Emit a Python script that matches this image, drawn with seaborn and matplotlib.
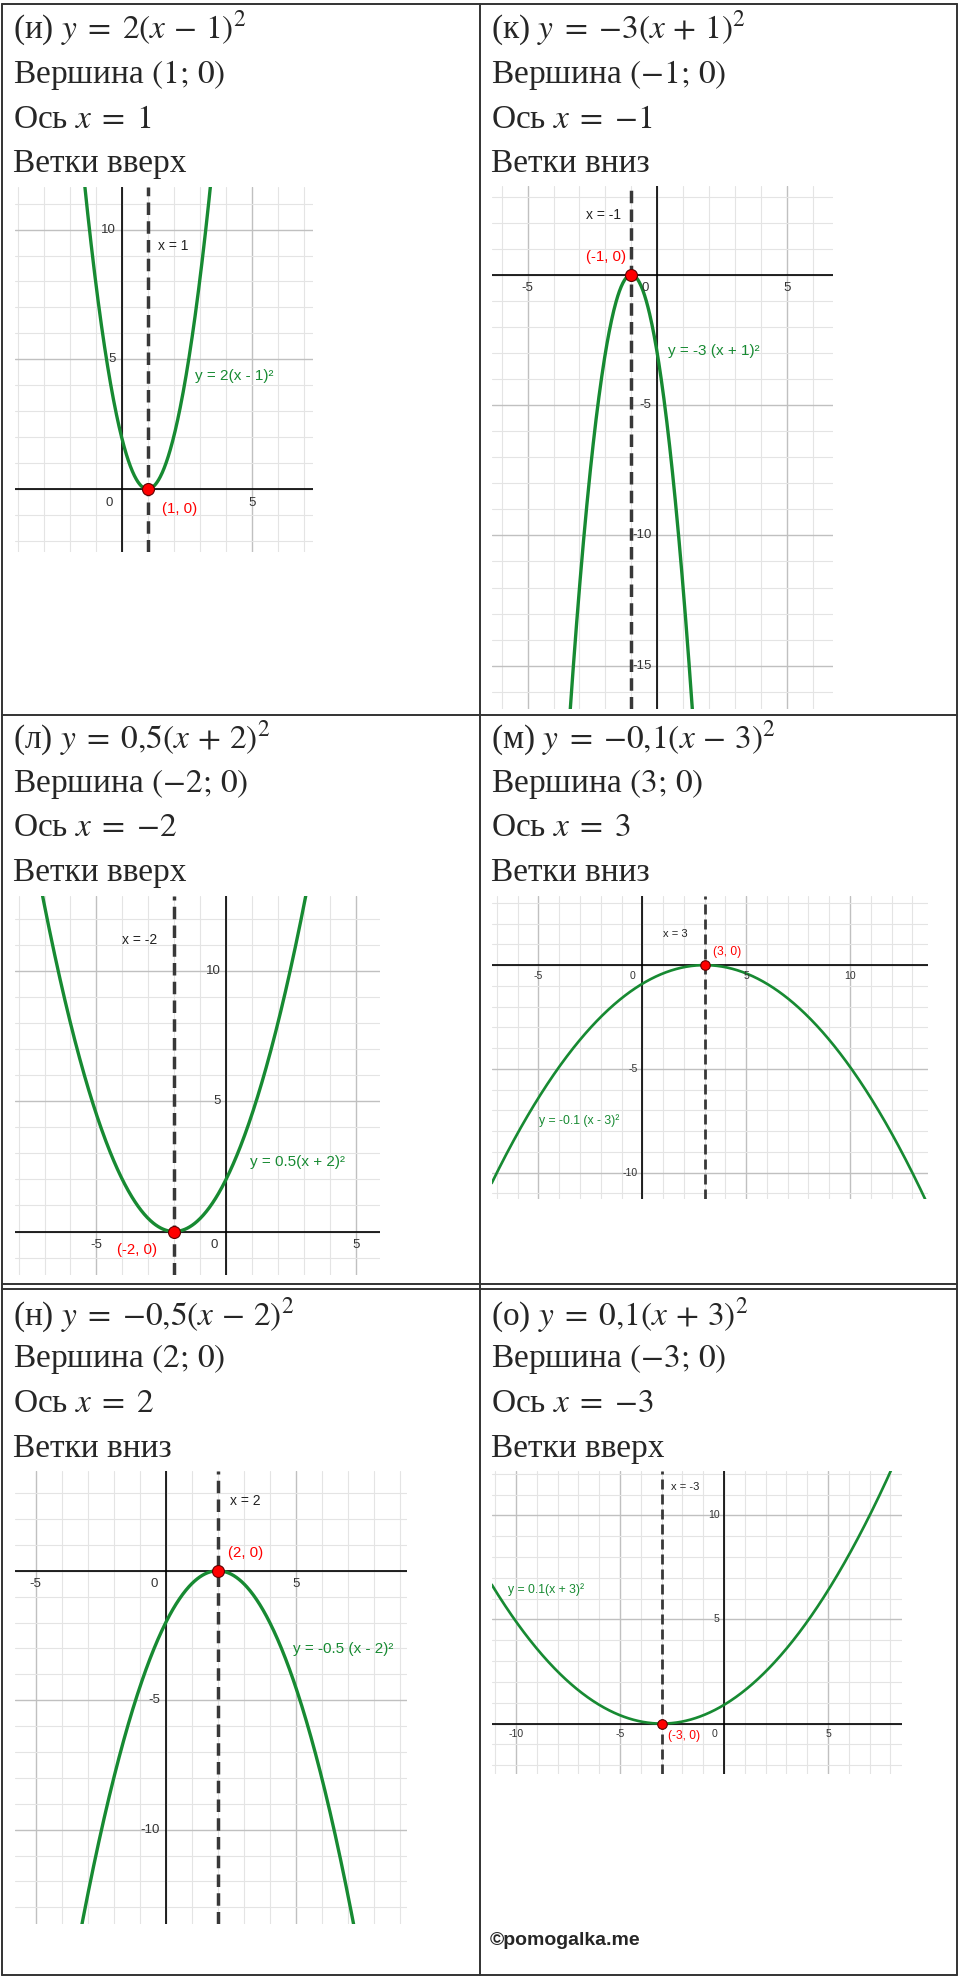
import numpy as np
import matplotlib
matplotlib.use("Agg")
import matplotlib.pyplot as plt
from matplotlib.ticker import MultipleLocator
import seaborn as sns

W, H = 960, 1979

# ---- chart content ----
letters = ["и", "к", "л", "м", "н", "о"]
coef_a = [2, -3, 0.5, -0.1, -0.5, 0.1]
vertex_x = [1, -1, -2, 3, 2, -3]
formula_tex = [r"$y\;=\;2(x\,-\,1)^2$", r"$y\;=\;{-3}(x\,+\,1)^2$", r"$y\;=\;0{,}5(x\,+\,2)^2$",
               r"$y\;=\;{-0{,}1}(x\,-\,3)^2$", r"$y\;=\;{-0{,}5}(x\,-\,2)^2$", r"$y\;=\;0{,}1(x\,+\,3)^2$"]
vertex_tex = [r"$(1;\,0)$", r"$(-1;\,0)$", r"$(-2;\,0)$", r"$(3;\,0)$", r"$(2;\,0)$", r"$(-3;\,0)$"]
axis_tex = [r"$x\;=\;1$", r"$x\;=\;{-1}$", r"$x\;=\;{-2}$", r"$x\;=\;3$", r"$x\;=\;2$", r"$x\;=\;{-3}$"]
branches = ["Ветки вверх", "Ветки вниз", "Ветки вверх", "Ветки вниз", "Ветки вниз", "Ветки вверх"]
curve_labels = ["y = 2(x - 1)²", "y = -3 (x + 1)²", "y = 0.5(x + 2)²",
                "y = -0.1 (x - 3)²", "y = -0.5 (x - 2)²", "y = 0.1(x + 3)²"]
axis_labels = ["x = 1", "x = -1", "x = -2", "x = 3", "x = 2", "x = -3"]
vertex_labels = ["(1, 0)", "(-1, 0)", "(-2, 0)", "(3, 0)", "(2, 0)", "(-3, 0)"]
xtick_vals = [[5], [-5, 5], [-5, 5], [-5, 5, 10], [-5, 5], [-10, -5, 5]]
ytick_vals = [[5, 10], [-5, -10, -15], [5, 10], [-5, -10], [-5, -10], [5, 10]]

# ---- layout (pixels of the 960x1979 page) ----
boxes = [(15, 186.5, 313, 552.4), (491.7, 185.6, 833.3, 709),
         (15, 896, 380, 1275.3), (491.7, 896, 928.3, 1199),
         (15, 1470.8, 407.3, 1924.2), (491.7, 1470.8, 901.7, 1774)]
xlims = [(-4.1, 7.36), (-6.39, 6.8), (-8.14, 5.94), (-7.25, 13.77), (-5.8, 9.29), (-11.17, 8.54)]
ylims = [(-2.44, 11.66), (-16.66, 3.42), (-1.68, 12.88), (-11.27, 3.33), (-13.65, 3.86), (-2.42, 12.14)]
scales = [1, 1, 1, 0.8, 1, 0.8]
axis_label_pos = [(1.4, 9.37), (-2.73, 2.29), (-4.02, 11.2), (0.98, 1.52), (2.47, 2.70), (-2.55, 11.35)]
curve_label_pos = [(2.82, 4.36), (0.43, -2.92), (0.93, 2.65), (-4.98, -7.5), (4.91, -3.01), (-10.37, 6.42)]
vertex_label_pos = [(1.55, -0.78), (-2.75, 0.69), (-4.19, -0.7), (3.39, 0.65), (2.41, 0.69), (-2.71, -0.6)]
text_x = [13, 491, 13, 491, 13, 491]
row_baselines = [[38.5, 83, 128, 172], [748, 792, 836.5, 881], [1325, 1367, 1412, 1457]]

GREEN = "#178a32"
DASH = "#383838"
BORDER = "#333333"
SANS = ["Liberation Sans", "DejaVu Sans"]

sns.set_style("white")
plt.rcParams["font.family"] = ["Liberation Serif", "DejaVu Serif"]
plt.rcParams["mathtext.fontset"] = "stix"

fig = plt.figure(figsize=(W / 100, H / 100), dpi=100)

# table borders
bg = fig.add_axes([0, 0, 1, 1], zorder=0)
bg.set_xlim(0, W)
bg.set_ylim(H, 0)
bg.axis("off")
lw_b = 1.4
for y in [4, 715, 1284, 1289, 1975]:
    bg.plot([2, 957], [y, y], color=BORDER, lw=lw_b)
for x in [2, 480, 957]:
    bg.plot([x, x], [4, 1975], color=BORDER, lw=lw_b)


def px_rect(box):
    l, t, r, b = box
    return [l / W, 1 - b / H, (r - l) / W, (b - t) / H]


for i in range(6):
    row = i // 2
    s = scales[i]
    # text block of the cell
    lines = [f"({letters[i]}) " + formula_tex[i], "Вершина " + vertex_tex[i],
             "Ось " + axis_tex[i], branches[i]]
    for line, yb in zip(lines, row_baselines[row]):
        fig.text(text_x[i] / W, 1 - yb / H, line, fontsize=24, va="baseline", ha="left")

    ax = fig.add_axes(px_rect(boxes[i]), zorder=1)
    ax.set_xlim(*xlims[i])
    ax.set_ylim(*ylims[i])
    ax.xaxis.set_major_locator(MultipleLocator(5))
    ax.yaxis.set_major_locator(MultipleLocator(5))
    ax.xaxis.set_minor_locator(MultipleLocator(1))
    ax.yaxis.set_minor_locator(MultipleLocator(1))
    ax.grid(which="minor", color="#e4e4e4", lw=0.8)
    ax.grid(which="major", color="#c0c0c0", lw=1.0)
    ax.set_axisbelow(True)
    ax.tick_params(which="both", length=0, labelbottom=False, labelleft=False)
    for sp in ax.spines.values():
        sp.set_visible(False)
    ax.patch.set_alpha(0)
    ax.axhline(0, color="black", lw=1.2, zorder=2)
    ax.axvline(0, color="black", lw=1.2, zorder=2)

    xs = np.linspace(xlims[i][0], xlims[i][1], 600)
    ys = coef_a[i] * (xs - vertex_x[i]) ** 2
    sns.lineplot(x=xs, y=ys, ax=ax, color=GREEN, lw=2.4 * s, sort=False, zorder=3)

    ax.axvline(vertex_x[i], color=DASH, lw=2.5 * s, ls=(0, (3.6, 1.8)), zorder=4)
    sns.scatterplot(x=[vertex_x[i]], y=[0], ax=ax, s=(8.6 * s) ** 2, color="#ff0000",
                    edgecolor="#600000", linewidth=0.8, zorder=5)

    # GeoGebra style labels
    ax.text(*axis_label_pos[i], axis_labels[i], family=SANS, fontsize=10 * s,
            color="#222222", ha="left", va="center", zorder=6)
    ax.text(*curve_label_pos[i], curve_labels[i], family=SANS, fontsize=11 * s,
            color=GREEN, ha="left", va="center", zorder=6)
    ax.text(*vertex_label_pos[i], vertex_labels[i], family=SANS, fontsize=10.8 * s,
            color="#ff0000", ha="left", va="center", zorder=6)

    tfs = 9.5 * s
    for v in xtick_vals[i]:
        ax.annotate(str(v), (v, 0), xytext=(0, -9.8 * s), textcoords="offset points",
                    ha="center", va="center", family=SANS, fontsize=tfs, color="#333333")
    for v in ytick_vals[i]:
        ax.annotate(str(v), (0, v), xytext=(-4 * s, 0), textcoords="offset points",
                    ha="right", va="center", family=SANS, fontsize=tfs, color="#333333")
    ax.annotate("0", (0, 0), xytext=(-6 * s, -9.8 * s), textcoords="offset points",
                ha="right", va="center", family=SANS, fontsize=tfs, color="#333333")
    ax.set_xlabel("")
    ax.set_ylabel("")
    if ax.get_legend():
        ax.get_legend().remove()

fig.text(489.3 / W, 1 - 1945 / H, "©pomogalka.me", family=SANS, fontsize=14,
         fontweight="bold", ha="left", va="baseline")

fig.savefig("out.png", dpi=100)
